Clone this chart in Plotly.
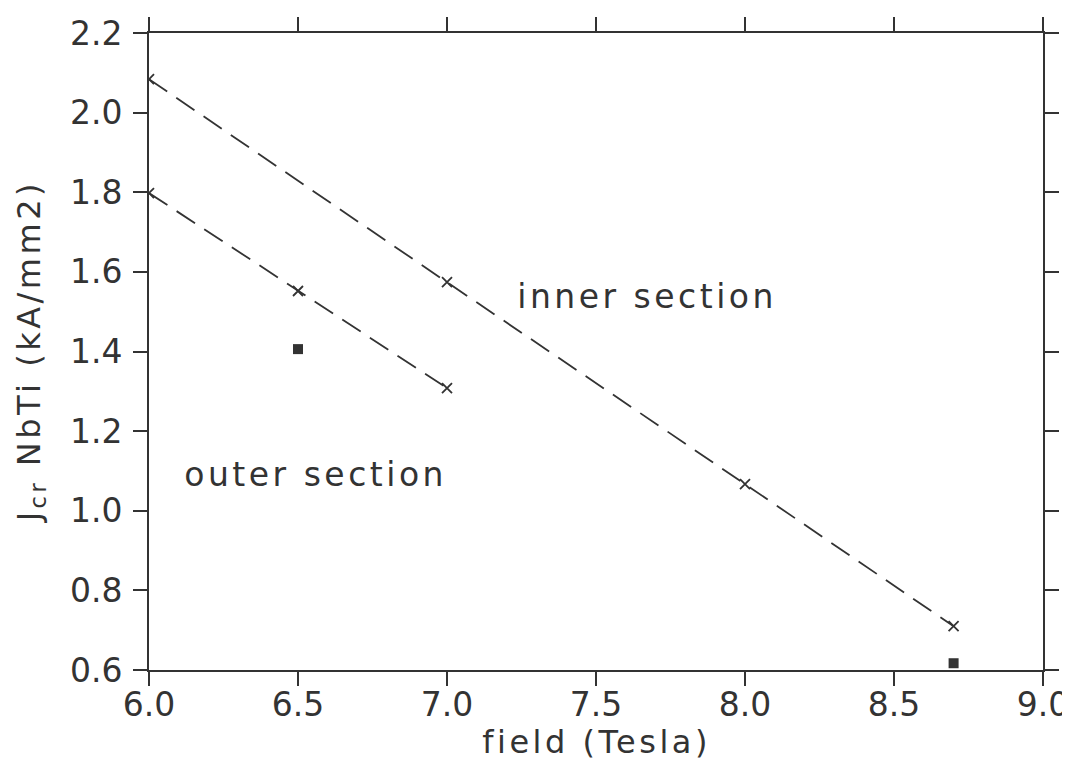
import plotly.graph_objects as go

inner_field = [6.0, 7.0, 8.0, 8.7]
inner_jcr = [2.084, 1.574, 1.067, 0.71]
outer_field = [6.0, 6.5, 7.0]
outer_jcr = [1.798, 1.552, 1.308]
meas_field = [6.5, 8.7]
meas_jcr = [1.406, 0.617]

x_ticks = [6.0, 6.5, 7.0, 7.5, 8.0, 8.5, 9.0]
y_ticks = [0.6, 0.8, 1.0, 1.2, 1.4, 1.6, 1.8, 2.0, 2.2]

ink = "#333333"
font = "DejaVu Sans, sans-serif"

fig = go.Figure()
fig.add_trace(go.Scatter(x=inner_field, y=inner_jcr, mode="lines+markers",
                         line=dict(color=ink, width=1.8, dash="22px,11px"),
                         marker=dict(symbol="x-thin", size=10, line=dict(color=ink, width=1.8)),
                         showlegend=False))
fig.add_trace(go.Scatter(x=outer_field, y=outer_jcr, mode="lines+markers",
                         line=dict(color=ink, width=1.8, dash="22px,11px"),
                         marker=dict(symbol="x-thin", size=10, line=dict(color=ink, width=1.8)),
                         showlegend=False))
fig.add_trace(go.Scatter(x=meas_field, y=meas_jcr, mode="markers",
                         marker=dict(symbol="square", size=10, color=ink),
                         showlegend=False))

fig.add_annotation(x=7.67, y=1.537, text="inner section", showarrow=False,
                   font=dict(size=33, color=ink, family=font))
fig.add_annotation(x=6.56, y=1.09, text="outer section", showarrow=False,
                   font=dict(size=33, color=ink, family=font))

fig.add_annotation(xref="paper", yref="paper", x=0.5, y=-0.113, text="field (Tesla)",
                   showarrow=False, yanchor="middle",
                   font=dict(size=32, color=ink, family=font))
fig.add_annotation(xref="paper", yref="paper", x=-0.133, y=0.5,
                   text="J<sub>cr</sub> NbTi (kA/mm2)", textangle=-90,
                   showarrow=False, xanchor="center", yanchor="middle",
                   font=dict(size=32, color=ink, family=font))

axis_common = dict(showline=True, linecolor=ink, linewidth=2, mirror="ticks",
                   ticks="outside", ticklen=14, tickwidth=2, tickcolor=ink,
                   showgrid=False, zeroline=False, automargin=False,
                   tickfont=dict(size=33, color=ink, family=font))

fig.update_xaxes(range=[6.0, 9.0], tickvals=x_ticks, ticklabelstandoff=-10,
                 ticktext=[f"{v:.1f}" for v in x_ticks], **axis_common)
fig.update_yaxes(range=[0.6, 2.2], tickvals=y_ticks, ticklabelstandoff=4,
                 ticktext=[f"{v:.1f}" for v in y_ticks], **axis_common)

fig.update_layout(width=1062, height=755, plot_bgcolor="white", paper_bgcolor="white",
                  margin=dict(l=141, r=27, t=25, b=93, autoexpand=False))

post = """
document.body.style.margin = '8px';
document.querySelectorAll('.annotation-text').forEach(function(t){ t.style.letterSpacing = '3.5px'; });
"""
fig.write_html("out.html", post_script=post)
